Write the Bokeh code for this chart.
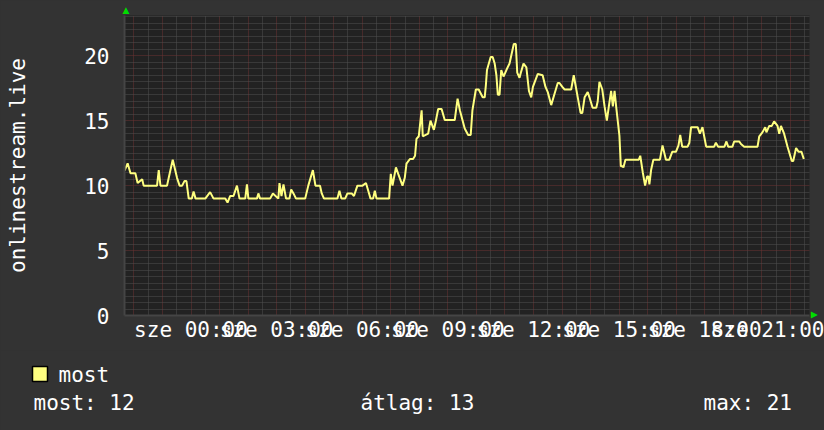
from bokeh.plotting import figure
from bokeh.layouts import column
from bokeh.models import Range1d, FixedTicker, Title, GlobalInlineStyleSheet
from bokeh.core.properties import value
from bokeh.embed import file_html
from bokeh.resources import INLINE

# ---- data (hours relative to Wednesday 00:00, viewer count) ----
hours = [-2.33, -2.22, -2.12, -1.95, -1.87, -1.71, -1.66, -1.19, -1.13, -1.07,
         -0.84, -0.78, -0.64, -0.49, -0.40, -0.31, -0.23, -0.16, -0.08, 0.03,
         0.09, 0.16, 0.50, 0.67, 0.79, 1.20, 1.28, 1.37, 1.49, 1.61,
         1.70, 1.90, 1.96, 2.01, 2.31, 2.36, 2.42, 2.77, 2.87, 3.06,
         3.10, 3.17, 3.24, 3.33, 3.45, 3.51, 3.59, 3.68, 4.00, 4.11,
         4.27, 4.36, 4.52, 4.58, 4.66, 5.13, 5.20, 5.27, 5.40, 5.48,
         5.63, 5.71, 5.83, 6.01, 6.13, 6.21, 6.29, 6.38, 6.44, 6.50,
         6.94, 7.00, 7.06, 7.18, 7.26, 7.41, 7.49, 7.55, 7.67, 7.78,
         7.85, 7.90, 7.98, 8.08, 8.12, 8.31, 8.39, 8.51, 8.58, 8.66,
         8.78, 8.89, 9.24, 9.34, 9.42, 9.59, 9.71, 9.80, 9.86, 9.98,
         10.08, 10.22, 10.29, 10.33, 10.37, 10.50, 10.57, 10.64, 10.70, 10.75,
         10.81, 10.87, 10.95, 11.05, 11.16, 11.31, 11.38, 11.43, 11.51, 11.57,
         11.65, 11.75, 11.84, 11.92, 11.98, 12.15, 12.32, 12.42, 12.50, 12.62,
         12.74, 12.85, 12.91, 13.01, 13.09, 13.32, 13.41, 13.50, 13.55, 13.65,
         13.71, 13.79, 13.90, 13.96, 14.07, 14.20, 14.25, 14.31, 14.41, 14.49,
         14.57, 14.64, 14.72, 14.78, 14.84, 14.90, 15.01, 15.06, 15.12, 15.15,
         15.22, 15.69, 15.74, 15.83, 15.91, 15.98, 16.03, 16.06, 16.12, 16.20,
         16.43, 16.52, 16.64, 16.76, 16.86, 16.99, 17.08, 17.14, 17.21, 17.40,
         17.46, 17.52, 17.75, 17.83, 17.92, 17.98, 18.05, 18.33, 18.39, 18.47,
         18.69, 18.76, 18.82, 18.97, 19.03, 19.21, 19.27, 19.38, 19.85, 19.91,
         20.02, 20.12, 20.16, 20.26, 20.35, 20.43, 20.55, 20.61, 20.67, 20.78,
         20.90, 21.05, 21.10, 21.20, 21.29, 21.39, 21.47]
viewers = [11.15, 11.72, 10.95, 10.95, 10.2, 10.5, 10.0, 10.0, 11.2, 10.0,
           10.0, 10.6, 12.0, 10.6, 10.0, 10.0, 10.35, 10.35, 9.0, 9.0,
           9.55, 9.0, 9.0, 9.5, 9.0, 9.0, 8.7, 9.2, 9.2, 10.0,
           9.0, 9.0, 10.1, 9.0, 9.0, 9.4, 9.0, 9.0, 9.4, 9.0,
           10.2, 9.2, 10.1, 9.0, 9.0, 9.7, 9.4, 9.0, 9.0, 10.0,
           11.2, 10.0, 10.0, 9.4, 9.0, 9.0, 9.6, 9.0, 9.0, 9.4,
           9.4, 9.2, 10.0, 10.0, 10.2, 9.6, 9.0, 9.0, 9.6, 9.0,
           9.0, 10.9, 10.0, 11.4, 10.9, 10.0, 10.6, 11.7, 12.05, 12.05,
           12.3, 13.6, 13.8, 15.8, 13.8, 14.0, 15.0, 14.3, 15.0, 15.9,
           15.9, 15.05, 15.05, 16.7, 15.8, 14.4, 13.9, 13.9, 15.8, 17.4,
           17.4, 16.8, 16.8, 17.7, 18.9, 19.9, 19.9, 19.4, 18.5, 17.0,
           17.0, 18.9, 18.4, 18.9, 19.4, 20.9, 20.9, 18.7, 18.3, 18.8,
           19.4, 19.1, 17.3, 16.8, 17.6, 18.6, 18.5, 17.6, 17.2, 16.2,
           17.1, 17.9, 17.9, 17.6, 17.4, 17.4, 18.5, 17.4, 16.8, 15.6,
           15.6, 16.8, 17.2, 16.8, 16.0, 16.0, 16.5, 18.0, 17.4, 16.1,
           15.0, 16.1, 17.3, 16.1, 17.3, 16.0, 13.85, 11.5, 11.5, 11.4,
           12.0, 12.0, 12.3, 11.0, 10.0, 10.7, 10.7, 10.1, 11.2, 12.0,
           12.0, 13.1, 12.0, 12.0, 12.6, 12.6, 13.1, 13.9, 13.0, 13.0,
           13.3, 14.5, 14.5, 14.0, 14.5, 13.8, 13.0, 13.0, 13.3, 13.0,
           13.0, 13.4, 13.0, 13.0, 13.4, 13.4, 13.2, 13.0, 13.0, 13.8,
           14.1, 14.5, 14.1, 14.6, 14.6, 14.95, 14.6, 14.0, 14.6, 14.0,
           13.0, 11.9, 11.9, 12.9, 12.6, 12.6, 12.05]

x_start, x_end = -2.33, 21.67
y_start, y_end = 0.0, 23.1

x_label_ticks = [0, 3, 6, 9, 12, 15, 18, 21]
x_label_texts = ["sze 00:00", "sze 03:00", "sze 06:00", "sze 09:00",
                 "sze 12:00", "sze 15:00", "sze 18:00", "sze 21:00"]
y_label_ticks = [0, 5, 10, 15, 20]
series_name = "most"
axis_title = "onlinestream.live"
stat_texts = ["most: 12", "átlag: 13", "max: 21"]

# ---- layout constants (page pixels; the page has no margin) ----
W, H = 824, 430
TOP_H = 350
FL, FT, FW, FH = 124, 15, 685, 300
FONT = "DejaVu Sans Mono"
BG = "#333333"
PLOT_BG = "#222222"
LINE = "#ffff80"
GREEN = "#00dd00"
RED_GRID = "#6c3333"
GRAY_GRID = "#505050"

p = figure(width=W, height=TOP_H, output_backend="svg", toolbar_location=None,
           x_range=Range1d(x_start, x_end), y_range=Range1d(y_start, y_end),
           min_border_left=FL, min_border_top=FT,
           min_border_right=W - FL - FW,
           min_border_bottom=TOP_H - FT - FH)
p.frame_align = False
p.stylesheets = [GlobalInlineStyleSheet(css="body{background:%s;}" % BG)]
p.background_fill_color = PLOT_BG
p.border_fill_color = BG
p.outline_line_color = None

# grid: hourly red, half-hourly gray; y: red every 5, gray every 0.5
major_hours = [h for h in range(-2, 22)]
minor_hours = [h + 0.5 for h in range(-3, 22) if x_start < h + 0.5 < x_end]
p.xgrid.ticker = FixedTicker(ticks=major_hours, minor_ticks=minor_hours)
y_minor = [k * 0.5 for k in range(1, 47) if (k * 0.5) % 5 != 0]
p.ygrid.ticker = FixedTicker(ticks=y_label_ticks, minor_ticks=y_minor)
for g in (p.xgrid, p.ygrid):
    g.grid_line_color = RED_GRID
    g.grid_line_dash = "1 1"
    g.minor_grid_line_color = GRAY_GRID
    g.minor_grid_line_dash = "1 1"

for ax in (p.xaxis, p.yaxis):
    ax.axis_line_color = "#454545"
    ax.axis_line_width = 2
    ax.major_tick_line_color = None
    ax.minor_tick_line_color = None
    ax.major_label_text_color = "white"
    ax.major_label_text_font = FONT
    ax.major_label_text_font_size = "21px"

p.xaxis.ticker = FixedTicker(ticks=x_label_ticks)
p.xaxis.major_label_overrides = {t: s for t, s in zip(x_label_ticks, x_label_texts)}
p.xaxis.major_label_standoff = -4
p.yaxis.ticker = FixedTicker(ticks=y_label_ticks)
p.yaxis.major_label_standoff = 9
p.yaxis.axis_label = axis_title
p.yaxis.axis_label_text_font = FONT
p.yaxis.axis_label_text_font_size = "21px"
p.yaxis.axis_label_text_font_style = "normal"
p.yaxis.axis_label_text_color = "white"
p.yaxis.axis_label_standoff = 51

p.line(hours, viewers, line_color=LINE, line_width=2)

# green axis arrows
p.add_layout(Title(text="\u25b2", align="left", offset=-2, standoff=1,
                   text_color=GREEN, text_font="DejaVu Sans", text_font_size="9px",
                   vertical_align="bottom"), "above")
p.add_layout(Title(text="\u25b2", align="right", offset=-3, standoff=0,
                   text_color=GREEN, text_font="DejaVu Sans", text_font_size="9px",
                   vertical_align="bottom"), "right")

# ---- bottom strip: legend + statistics (coordinates are page pixels) ----
BOT_H = H - TOP_H
q = figure(width=W, height=BOT_H, output_backend="svg", toolbar_location=None,
           x_range=Range1d(0, W), y_range=Range1d(H, TOP_H),
           min_border=0, x_axis_location=None, y_axis_location=None)
q.frame_align = False
q.background_fill_color = BG
q.border_fill_color = BG
q.outline_line_color = None
q.grid.visible = False

q.quad(left=[32], right=[47], top=[366], bottom=[381],
       fill_color=LINE, line_color="black", line_width=1.5)
q.text(x=[58, 33, 360, 703], y=[374, 402, 402, 402],
       text=[series_name] + stat_texts, text_font=value(FONT),
       text_font_size="21px", text_color="white",
       text_align="left", text_baseline="middle")

layout = column(p, q, spacing=0)
open("out.html", "w").write(file_html(layout, INLINE))
